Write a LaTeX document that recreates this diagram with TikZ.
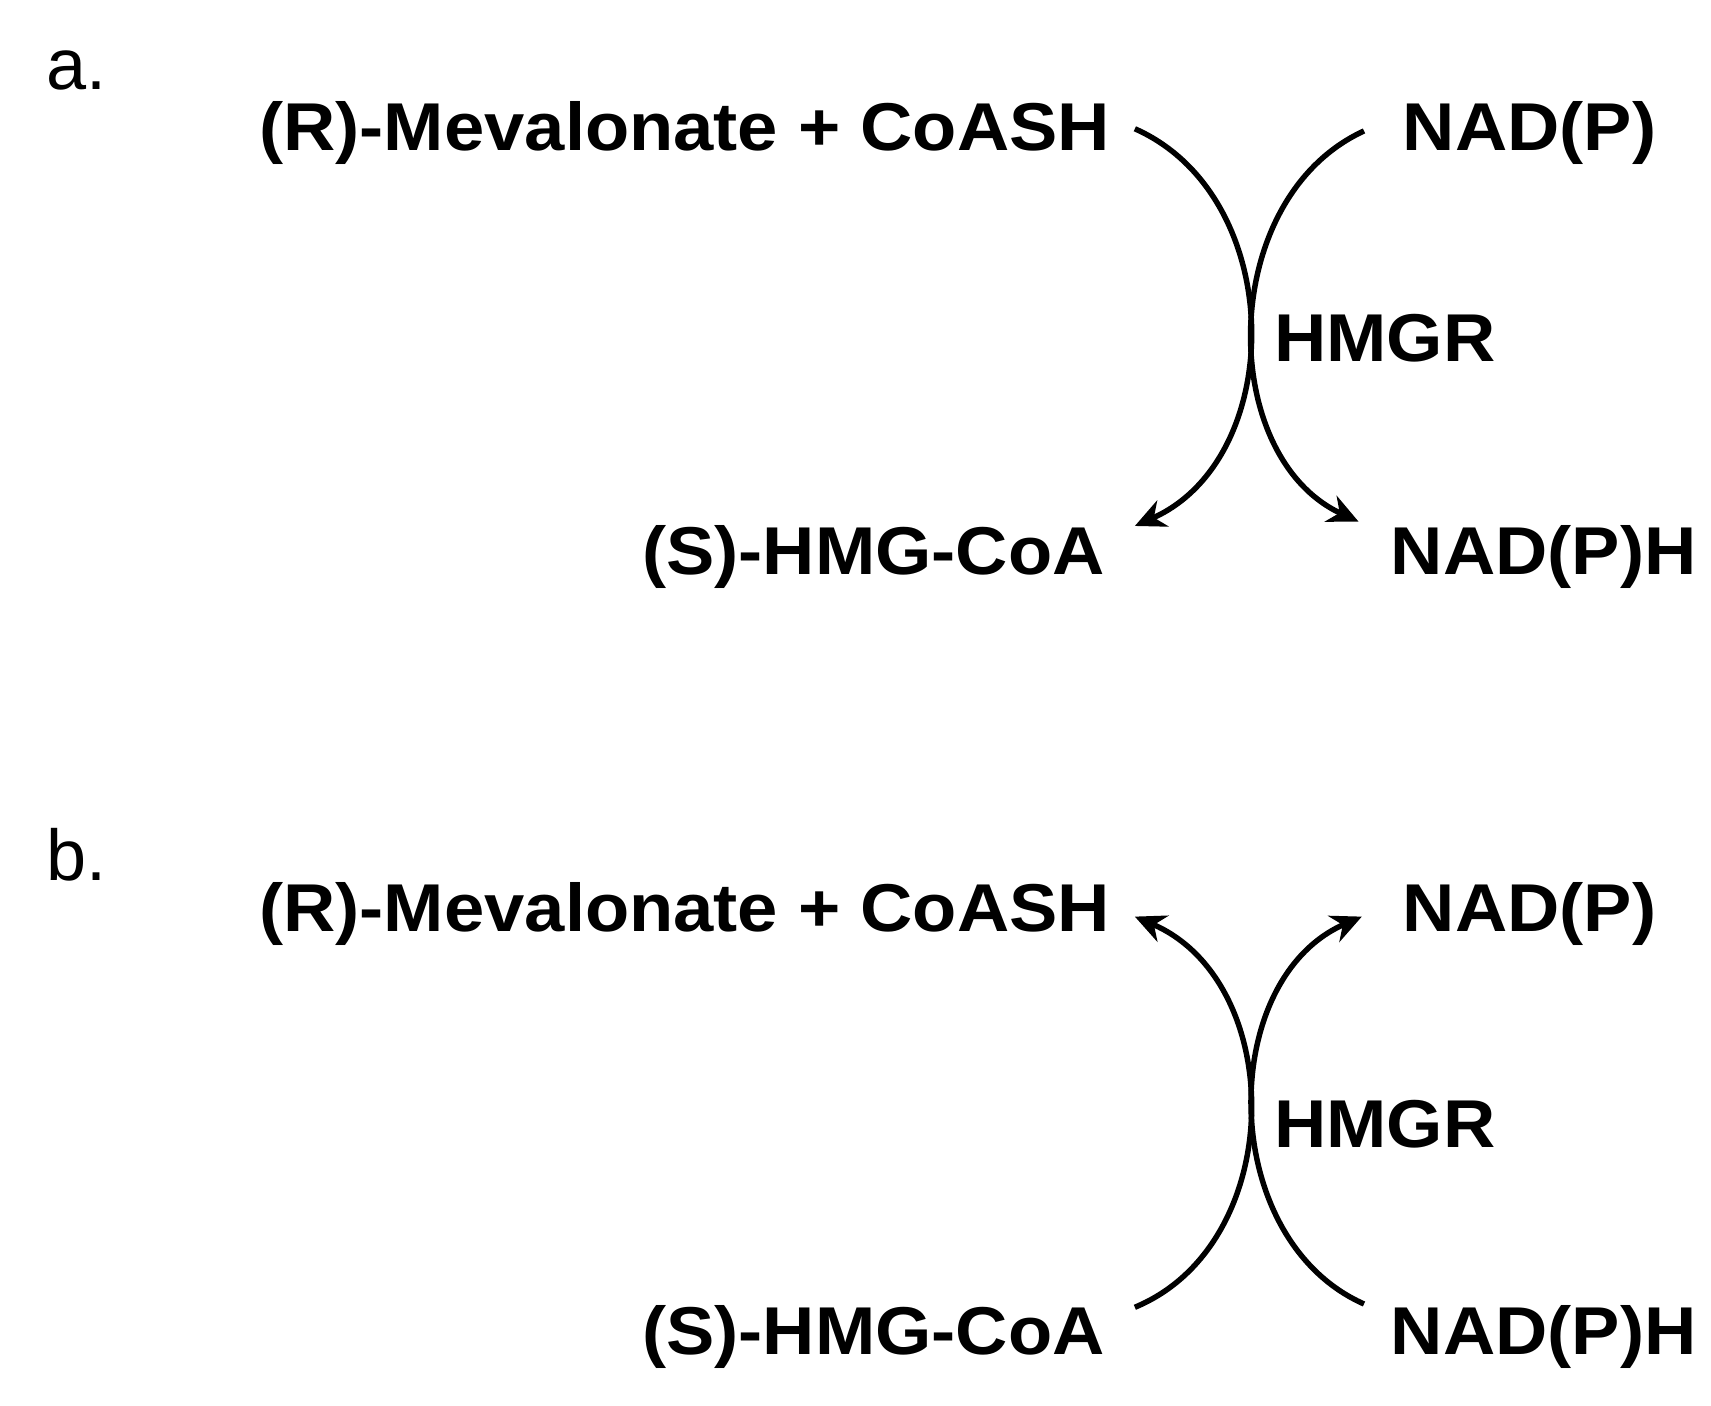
\documentclass[tikz,border=0pt]{standalone}
\usepackage{fontspec}
\setmainfont{Liberation Sans}
\usetikzlibrary{arrows.meta}
\begin{document}
\tikzset{every picture/.style={line width=5pt}}
\tikzset{chem/.style={inner sep=0pt,font=\fontsize{62}{70}\selectfont\bfseries,xscale=1.07}}
\tikzset{panel/.style={inner sep=0pt,font=\fontsize{66}{74}\selectfont}}
\tikzset{rxn/.style={line width=5pt,-{Stealth[length=28pt,width=26pt,inset=9pt]}}}
\begin{tikzpicture}[x=1pt,y=1pt,yscale=-1,xscale=1]
\useasboundingbox (0,0) rectangle (1568,1288);

% panel a
\node[panel,anchor=west] (la) at (40,65) {a.};
\node[chem,anchor=east] (mevA) at (1020,122) {(R)-Mevalonate + CoASH};
\node[chem,anchor=west] (nadA) at (1283,122) {NAD(P)};
\node[chem,anchor=west] (hmgrA) at (1165,310) {HMGR};
\node[chem,anchor=east] (hmgA) at (1015,510) {(S)-HMG-CoA};
\node[chem,anchor=west] (nadhA) at (1272,510) {NAD(P)H};
\coordinate (a1) at (1040,118);
\coordinate (a2) at (1040,482);
\coordinate (a3) at (1250,120);
\coordinate (a4) at (1245,478);
% Curves
\draw[rxn] (a1) .. controls (1180,180) and (1180,420) .. (a2);
\draw[rxn] (a3) .. controls (1115,182) and (1115,418) .. (a4);

% panel b
\node[panel,anchor=west] (lb) at (40,783) {b.};
\node[chem,anchor=east] (mevB) at (1020,838) {(R)-Mevalonate + CoASH};
\node[chem,anchor=west] (nadB) at (1283,838) {NAD(P)};
\node[chem,anchor=west] (hmgrB) at (1165,1030) {HMGR};
\node[chem,anchor=east] (hmgB) at (1015,1225) {(S)-HMG-CoA};
\node[chem,anchor=west] (nadhB) at (1272,1225) {NAD(P)H};
\coordinate (b1) at (1040,840);
\coordinate (b2) at (1040,1198);
\coordinate (b3) at (1248,840);
\coordinate (b4) at (1250,1195);
% Curves
\draw[rxn] (b2) .. controls (1180,1140) and (1180,900) .. (b1);
\draw[rxn] (b4) .. controls (1115,1135) and (1115,898) .. (b3);
\end{tikzpicture}
\end{document}
